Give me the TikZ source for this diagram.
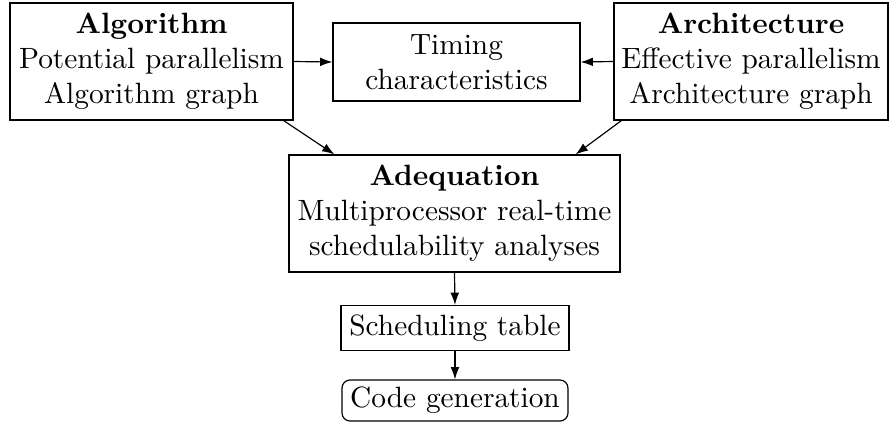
\documentclass[tikz,border=0pt]{standalone}
\usetikzlibrary{arrows.meta}
\def\u{0.3407pt}
\tikzset{
  box/.style={draw, line width=0.4pt, align=center, inner sep=0pt, font=\normalsize},
  arr/.style={-{Latex[length=4.2pt,width=3pt]}, line width=0.4pt},
}
\begin{document}
\begin{tikzpicture}[x=0.3407pt,y=-0.3407pt]
\useasboundingbox (0,0) rectangle (893,423);
\node[box, minimum width={283*\u}, minimum height={117*\u}] (alg) at (151.5,61.5)
  {\textbf{Algorithm}\\Potential parallelism\\Algorithm graph};
\node[box, minimum width={247*\u}, minimum height={78*\u}] (tim) at (456.5,62)
  {Timing\\characteristics};
\node[box, minimum width={274*\u}, minimum height={117*\u}] (arch) at (751,61.5)
  {\textbf{Architecture}\\Effective parallelism\\Architecture graph};
\node[box, minimum width={331*\u}, minimum height={117*\u}] (adq) at (454.5,213.5)
  {\textbf{Adequation}\\Multiprocessor real-time\\schedulability analyses};
\node[box, minimum width={228*\u}, minimum height={45*\u}] (sch) at (455,328)
  {Scheduling table};
\node[box, rounded corners=8*\u, minimum width={226*\u}, minimum height={41*\u}] (cod) at (455,400.5)
  {Code generation};
\draw[arr] (alg.east) -- (tim.west);
\draw[arr] (arch.west) -- (tim.east);
\draw[arr] ([xshift=-10*\u]alg.south east) -- ([xshift=46*\u]adq.north west);
\draw[arr] ([xshift=8*\u]arch.south west) -- ([xshift=-45*\u]adq.north east);
\draw[arr] (adq.south) -- (sch.north);
\draw[arr] (sch.south) -- (cod.north);
\end{tikzpicture}
\end{document}
